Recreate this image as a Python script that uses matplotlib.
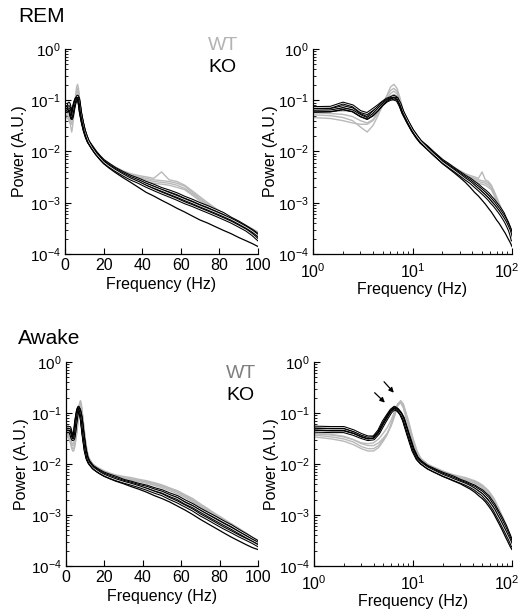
import matplotlib

matplotlib.use("Agg")
import matplotlib.pyplot as plt
import matplotlib.transforms as mtransforms

plt.rcParams["font.family"] = ["Liberation Sans", "DejaVu Sans"]
plt.rcParams["mathtext.fontset"] = "custom"
plt.rcParams["mathtext.rm"] = "Liberation Sans"
plt.rcParams["mathtext.default"] = "regular"

# frequency grid (Hz) shared by every spectrum
freqs = [0.5, 1, 1.5, 2, 2.5, 3, 3.5, 4, 4.5, 5, 5.5, 6, 6.5, 7, 7.5, 8, 9, 10, 11, 12,
         14, 16, 18, 20, 23, 26, 30, 34, 38, 42, 46, 50, 54, 58, 62, 66, 70, 74, 78, 82,
         86, 90, 94, 97, 100]

# REM, knockout animals
rem_ko_1 = [0.070, 0.072, 0.073, 0.088, 0.078, 0.060, 0.055, 0.066, 0.078, 0.092, 0.105, 0.112, 0.120, 0.110, 0.080,
            0.058, 0.037, 0.026, 0.020, 0.016, 0.0125, 0.0098, 0.0080, 0.0067, 0.0056, 0.0047, 0.0039, 0.0033, 0.0029,
            0.0025, 0.0022, 0.0019, 0.0017, 0.0015, 0.00128, 0.00112, 0.00096, 0.00084, 0.00072, 0.00062, 0.00050,
            0.00042, 0.00034, 0.00029, 0.00024]
rem_ko_2 = [0.064, 0.066, 0.066, 0.075, 0.068, 0.052, 0.046, 0.058, 0.072, 0.088, 0.100, 0.108, 0.105, 0.100, 0.078,
            0.056, 0.036, 0.025, 0.019, 0.0155, 0.012, 0.0094, 0.0077, 0.0064, 0.0053, 0.0045, 0.0037, 0.0031, 0.0027,
            0.0023, 0.0020, 0.00175, 0.00152, 0.00133, 0.00115, 0.00100, 0.00086, 0.00075, 0.00065, 0.00056, 0.00048,
            0.00040, 0.00033, 0.00028, 0.00023]
rem_ko_3 = [0.060, 0.061, 0.062, 0.068, 0.062, 0.050, 0.044, 0.052, 0.066, 0.082, 0.096, 0.104, 0.110, 0.108, 0.085,
            0.060, 0.038, 0.026, 0.020, 0.016, 0.0118, 0.0092, 0.0075, 0.0062, 0.0051, 0.0043, 0.0035, 0.0029, 0.0025,
            0.0021, 0.0018, 0.00155, 0.00135, 0.00117, 0.00100, 0.00088, 0.00076, 0.00066, 0.00057, 0.00049, 0.00042,
            0.00035, 0.00029, 0.00024, 0.00019]
rem_ko_4 = [0.058, 0.059, 0.060, 0.066, 0.060, 0.048, 0.043, 0.050, 0.062, 0.080, 0.095, 0.105, 0.112, 0.105, 0.080,
            0.056, 0.035, 0.024, 0.018, 0.0145, 0.011, 0.0086, 0.0070, 0.0058, 0.0047, 0.0039, 0.0031, 0.0025, 0.0020,
            0.0016, 0.00135, 0.00112, 0.00094, 0.00078, 0.00066, 0.00055, 0.00046, 0.00040, 0.00034, 0.00029, 0.00025,
            0.00021, 0.00018, 0.00016, 0.00014]

# REM, wild-type animals
rem_wt_1 = [0.050, 0.052, 0.050, 0.046, 0.040, 0.030, 0.024, 0.032, 0.050, 0.080, 0.120, 0.180, 0.205, 0.170, 0.110,
            0.065, 0.036, 0.025, 0.020, 0.016, 0.0125, 0.0100, 0.0082, 0.0069, 0.0058, 0.0050, 0.0042, 0.0037, 0.0034,
            0.0032, 0.0030, 0.0040, 0.0028, 0.0026, 0.0022, 0.0017, 0.0013, 0.00100, 0.00078, 0.00063, 0.00052,
            0.00043, 0.00036, 0.00031, 0.00027]
rem_wt_2 = [0.058, 0.057, 0.055, 0.053, 0.048, 0.040, 0.036, 0.042, 0.058, 0.085, 0.120, 0.155, 0.170, 0.150, 0.100,
            0.062, 0.036, 0.025, 0.019, 0.0155, 0.012, 0.0096, 0.0080, 0.0067, 0.0056, 0.0048, 0.0040, 0.0035, 0.0032,
            0.0030, 0.0028, 0.0027, 0.0026, 0.0024, 0.0021, 0.0016, 0.00120, 0.00094, 0.00074, 0.00060, 0.00050,
            0.00041, 0.00034, 0.00029, 0.00025]
rem_wt_3 = [0.045, 0.046, 0.044, 0.040, 0.036, 0.034, 0.034, 0.040, 0.055, 0.078, 0.105, 0.135, 0.150, 0.135, 0.095,
            0.060, 0.035, 0.024, 0.019, 0.015, 0.0118, 0.0094, 0.0078, 0.0065, 0.0054, 0.0046, 0.0038, 0.0034, 0.0031,
            0.0028, 0.0026, 0.0025, 0.0024, 0.0022, 0.0019, 0.0015, 0.00115, 0.00090, 0.00070, 0.00056, 0.00046,
            0.00038, 0.00031, 0.00027, 0.00023]
rem_wt_4 = [0.062, 0.062, 0.060, 0.062, 0.062, 0.058, 0.048, 0.050, 0.062, 0.080, 0.100, 0.120, 0.130, 0.122, 0.090,
            0.060, 0.036, 0.025, 0.019, 0.0152, 0.0117, 0.0093, 0.0077, 0.0064, 0.0053, 0.0045, 0.0037, 0.0032, 0.0029,
            0.0026, 0.0024, 0.0023, 0.0022, 0.0020, 0.0018, 0.0014, 0.00108, 0.00085, 0.00066, 0.00053, 0.00043,
            0.00035, 0.00029, 0.00025, 0.00021]

# Awake, knockout animals
awake_ko_1 = [0.052, 0.053, 0.052, 0.052, 0.045, 0.038, 0.034, 0.034, 0.045, 0.068, 0.090, 0.115, 0.130, 0.118, 0.100,
              0.080, 0.038, 0.020, 0.0135, 0.0112, 0.0090, 0.0080, 0.0072, 0.0066, 0.0060, 0.0055, 0.0048, 0.0044,
              0.0040, 0.0037, 0.0033, 0.0030, 0.0026, 0.0023, 0.0019, 0.0016, 0.00130, 0.00108, 0.00090, 0.00074,
              0.00062, 0.00050, 0.00041, 0.00035, 0.00030]
awake_ko_2 = [0.047, 0.048, 0.047, 0.047, 0.041, 0.035, 0.032, 0.033, 0.042, 0.062, 0.085, 0.110, 0.125, 0.115, 0.098,
              0.075, 0.036, 0.019, 0.013, 0.0108, 0.0087, 0.0077, 0.0069, 0.0063, 0.0057, 0.0052, 0.0046, 0.0042,
              0.0038, 0.0035, 0.0031, 0.0028, 0.0024, 0.0021, 0.0017, 0.00145, 0.00118, 0.00097, 0.00080, 0.00066,
              0.00055, 0.00045, 0.00037, 0.00032, 0.00028]
awake_ko_3 = [0.043, 0.044, 0.043, 0.043, 0.038, 0.033, 0.030, 0.031, 0.040, 0.058, 0.080, 0.105, 0.120, 0.112, 0.095,
              0.072, 0.034, 0.018, 0.0125, 0.0104, 0.0084, 0.0074, 0.0066, 0.0060, 0.0054, 0.0049, 0.0044, 0.0040,
              0.0036, 0.0032, 0.0028, 0.0025, 0.0021, 0.0018, 0.0015, 0.00125, 0.00100, 0.00083, 0.00068, 0.00056,
              0.00047, 0.00039, 0.00033, 0.00029, 0.00025]
awake_ko_4 = [0.045, 0.046, 0.045, 0.045, 0.040, 0.034, 0.031, 0.032, 0.041, 0.060, 0.082, 0.108, 0.122, 0.110, 0.092,
              0.070, 0.033, 0.018, 0.0122, 0.0100, 0.0080, 0.0070, 0.0063, 0.0057, 0.0051, 0.0046, 0.0041, 0.0036,
              0.0032, 0.0028, 0.0024, 0.0021, 0.0018, 0.0015, 0.00125, 0.00102, 0.00082, 0.00067, 0.00055, 0.00045,
              0.00037, 0.00031, 0.00026, 0.00023, 0.00021]

# Awake, wild-type animals
awake_wt_1 = [0.042, 0.041, 0.038, 0.035, 0.030, 0.025, 0.023, 0.023, 0.026, 0.032, 0.040, 0.055, 0.085, 0.140, 0.175,
              0.150, 0.070, 0.032, 0.018, 0.013, 0.0100, 0.0088, 0.0080, 0.0073, 0.0066, 0.0061, 0.0057, 0.0054,
              0.0050, 0.0047, 0.0043, 0.0039, 0.0034, 0.0030, 0.0025, 0.0021, 0.00165, 0.00132, 0.00105, 0.00085,
              0.00068, 0.00055, 0.00044, 0.00037, 0.00032]
awake_wt_2 = [0.038, 0.037, 0.034, 0.031, 0.027, 0.022, 0.020, 0.020, 0.023, 0.030, 0.040, 0.058, 0.090, 0.140, 0.160,
              0.130, 0.060, 0.028, 0.016, 0.0122, 0.0095, 0.0084, 0.0076, 0.0070, 0.0063, 0.0058, 0.0053, 0.0050,
              0.0047, 0.0044, 0.0040, 0.0036, 0.0032, 0.0028, 0.0023, 0.0019, 0.00150, 0.00122, 0.00098, 0.00080,
              0.00065, 0.00053, 0.00043, 0.00036, 0.00031]
awake_wt_3 = [0.035, 0.034, 0.031, 0.028, 0.024, 0.020, 0.018, 0.018, 0.021, 0.028, 0.038, 0.060, 0.100, 0.150, 0.170,
              0.140, 0.065, 0.030, 0.017, 0.0125, 0.0096, 0.0085, 0.0077, 0.0070, 0.0063, 0.0058, 0.0054, 0.0051,
              0.0048, 0.0045, 0.0041, 0.0037, 0.0033, 0.0029, 0.0024, 0.0020, 0.00155, 0.00125, 0.00100, 0.00080,
              0.00064, 0.00051, 0.00041, 0.00035, 0.00030]
awake_wt_4 = [0.040, 0.039, 0.037, 0.034, 0.030, 0.026, 0.025, 0.026, 0.031, 0.040, 0.052, 0.072, 0.105, 0.150, 0.165,
              0.125, 0.055, 0.026, 0.015, 0.0118, 0.0092, 0.0082, 0.0074, 0.0068, 0.0061, 0.0056, 0.0052, 0.0048,
              0.0045, 0.0042, 0.0038, 0.0034, 0.0030, 0.0026, 0.0022, 0.00180, 0.00142, 0.00115, 0.00093, 0.00075,
              0.00061, 0.00050, 0.00040, 0.00034, 0.00029]

power_ticks = [1e-4, 1e-3, 1e-2, 1e-1, 1]
power_tick_labels = ["$10^{-4}$", "$10^{-3}$", "$10^{-2}$", "$10^{-1}$", "$10^{0}$"]
lin_freq_ticks = [0, 20, 40, 60, 80, 100]
log_freq_ticks = [1, 10, 100]
log_freq_tick_labels = ["$10^{0}$", "$10^{1}$", "$10^{2}$"]

WT_LINE = "#b9b9b9"

W, H = 521, 610


def px_rect(x0, y0, x1, y1):
    return [x0 / W, 1 - y1 / H, (x1 - x0) / W, (y1 - y0) / H]


def draw_spectra(ax, wt_curves, ko_curves):
    for curve in wt_curves:
        ax.plot(freqs, curve, color=WT_LINE, lw=1.0)
    for curve in ko_curves[:-1]:
        ax.plot(freqs, curve, color="black", lw=2.1)
        ax.plot(freqs, curve, color="white", lw=0.55)
    ax.plot(freqs, ko_curves[-1], color="black", lw=0.9)


def style_axis(ax, log_x):
    ax.set_yscale("log")
    ax.set_ylim(1e-4, 1)
    ax.set_yticks(power_ticks)
    ax.set_yticklabels(power_tick_labels)
    if log_x:
        ax.set_xscale("log")
        ax.set_xlim(1, 100)
        ax.set_xticks(log_freq_ticks)
        ax.set_xticklabels(log_freq_tick_labels)
    else:
        ax.set_xlim(0, 100)
        ax.set_xticks(lin_freq_ticks)
    for side in ("top", "right"):
        ax.spines[side].set_visible(False)
    for side in ("left", "bottom"):
        ax.spines[side].set_linewidth(0.9)
    ax.tick_params(which="major", direction="in", length=4, width=0.8, labelsize=11, pad=3)
    ax.tick_params(axis="x", which="major", labelsize=11.5, pad=6 if log_x else 3)
    ax.tick_params(which="minor", direction="in", length=2, width=0.6)
    ax.set_xlabel("Frequency (Hz)", fontsize=11.5, labelpad=1 if log_x else 3)
    ax.set_ylabel("Power (A.U.)", fontsize=11.5)
    if log_x:
        # the last tick label sits on the figure edge; nudge it inside
        last = ax.get_xticklabels()[-1]
        last.set_transform(last.get_transform() + mtransforms.ScaledTranslation(-5 / 100, 0, ax.figure.dpi_scale_trans))


fig = plt.figure(figsize=(W / 100, H / 100), dpi=100)

panels = [
    (px_rect(65, 49, 258, 254), False, [rem_wt_1, rem_wt_2, rem_wt_3, rem_wt_4],
     [rem_ko_1, rem_ko_2, rem_ko_3, rem_ko_4], -0.195),
    (px_rect(313, 49, 512, 254), True, [rem_wt_1, rem_wt_2, rem_wt_3, rem_wt_4],
     [rem_ko_1, rem_ko_2, rem_ko_3, rem_ko_4], -0.175),
    (px_rect(66, 362, 258, 566), False, [awake_wt_1, awake_wt_2, awake_wt_3, awake_wt_4],
     [awake_ko_1, awake_ko_2, awake_ko_3, awake_ko_4], -0.195),
    (px_rect(314, 362, 512, 566), True, [awake_wt_1, awake_wt_2, awake_wt_3, awake_wt_4],
     [awake_ko_1, awake_ko_2, awake_ko_3, awake_ko_4], -0.175),
]

axes = []
for rect, log_x, wt, ko, ylab_x in panels:
    ax = fig.add_axes(rect)
    draw_spectra(ax, wt, ko)
    style_axis(ax, log_x)
    ax.yaxis.set_label_coords(ylab_x, 0.5)
    axes.append(ax)

# arrows marking the theta peaks in the awake log-log panel
arrow_style = dict(arrowstyle="-|>", color="black", lw=0.9, mutation_scale=7, shrinkA=0, shrinkB=0)
axes[3].annotate("", xy=(5.2, 0.16), xytext=(4.1, 0.25), arrowprops=arrow_style)
axes[3].annotate("", xy=(6.4, 0.25), xytext=(5.1, 0.41), arrowprops=arrow_style)

fig.text(18 / W, 1 - 17 / H, "REM", fontsize=15, va="center", ha="left")
fig.text(18 / W, 1 - 339 / H, "Awake", fontsize=15, va="center", ha="left")
fig.text(208 / W, 1 - 45 / H, "WT", fontsize=14, va="center", ha="left", color="#b3b3b3")
fig.text(208 / W, 1 - 68 / H, "KO", fontsize=14, va="center", ha="left", color="black")
fig.text(226 / W, 1 - 373 / H, "WT", fontsize=14, va="center", ha="left", color="#7f7f7f")
fig.text(226 / W, 1 - 396 / H, "KO", fontsize=14, va="center", ha="left", color="black")

fig.savefig("out.png", dpi=100)
